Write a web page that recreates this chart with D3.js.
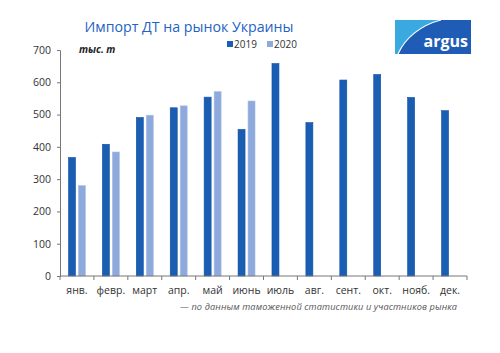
<!DOCTYPE html>
<html>
<head>
<meta charset="utf-8">
<script src="https://cdn.jsdelivr.net/npm/d3@7"></script>
<style>
  body { margin: 0; background: #fff; }
  text { font-family: "Open Sans", "Noto Sans", sans-serif; }
</style>
</head>
<body>
<div id="graphic"></div>
<script>
// data
const months = ["янв.", "февр.", "март", "апр.", "май", "июнь", "июль", "авг.", "сент.", "окт.", "нояб.", "дек."];
const years = ["2019", "2020"];
const values2019 = [367, 408, 491, 521, 554, 454, 658, 475, 607, 624, 553, 512];
const values2020 = [280, 384, 498, 527, 571, 542, null, null, null, null, null, null];
const yTicks = [0, 100, 200, 300, 400, 500, 600, 700];

const colors = {"2019": "#1a5eb4", "2020": "#8eaadc"};

const graphicWidth = 500;
const graphicHeight = 353;
const margin = {top: 50, right: 33, bottom: 77, left: 60};
const plotWidth = graphicWidth - margin.left - margin.right;
const plotHeight = graphicHeight - margin.top - margin.bottom;

const svg = d3.select("#graphic")
    .append("svg")
    .attr("width", graphicWidth)
    .attr("height", graphicHeight);

const plot = svg.append("g")
    .attr("transform", "translate(" + margin.left + "," + margin.top + ")");

// scales
const x = d3.scaleBand()
    .domain(months)
    .range([0, plotWidth])
    .paddingInner(0.5)
    .paddingOuter(0.25);
const xSub = d3.scaleBand()
    .domain(years)
    .range([0, x.bandwidth()])
    .paddingInner(0.3);
const y = d3.scaleLinear()
    .domain([0, 700])
    .range([plotHeight, 0]);

// bars
const rows = months.map((m, i) => ({month: m, "2019": values2019[i], "2020": values2020[i]}));
const groups = plot.selectAll("g.month")
    .data(rows)
    .enter().append("g")
    .attr("class", "month")
    .attr("transform", d => "translate(" + x(d.month) + ",0)");
groups.selectAll("rect")
    .data(d => years.filter(k => d[k] != null).map(k => ({key: k, value: d[k]})))
    .enter().append("rect")
    .attr("x", d => xSub(d.key))
    .attr("y", d => y(d.value))
    .attr("width", xSub.bandwidth())
    .attr("height", d => plotHeight - y(d.value))
    .attr("fill", d => colors[d.key])
    .attr("stroke", d => d.key === "2019" ? "#124f9e" : "#a9bfe6")
    .attr("stroke-width", 0.6);

// y axis
const yAxis = plot.append("g")
    .call(d3.axisLeft(y).tickValues(yTicks).tickSize(3).tickPadding(6));
yAxis.select(".domain").attr("stroke", "#777");
yAxis.selectAll(".tick line").attr("stroke", "#777");
yAxis.selectAll(".tick text").attr("fill", "#333").style("font-size", "10.5px");

// x axis with ticks at category boundaries
const xAxisG = plot.append("g")
    .attr("transform", "translate(0," + plotHeight + ")");
xAxisG.append("line")
    .attr("x1", 0).attr("x2", plotWidth)
    .attr("stroke", "#777");
const bounds = d3.range(months.length + 1).map(i => i * plotWidth / months.length);
xAxisG.selectAll("line.tk")
    .data(bounds)
    .enter().append("line")
    .attr("class", "tk")
    .attr("x1", d => d).attr("x2", d => d)
    .attr("y1", 0).attr("y2", 4)
    .attr("stroke", "#777");
xAxisG.selectAll("text")
    .data(months)
    .enter().append("text")
    .attr("x", d => x(d) + x.bandwidth() / 2)
    .attr("y", 18)
    .attr("text-anchor", "middle")
    .attr("fill", "#333")
    .style("font-size", "10.5px")
    .text(d => d);

// title
svg.append("text")
    .attr("x", 189)
    .attr("y", 32)
    .attr("text-anchor", "middle")
    .attr("fill", "#2362c4")
    .style("font-size", "14.2px")
    .text("Импорт ДТ на рынок Украины");

// unit label
svg.append("text")
    .attr("x", 79)
    .attr("y", 53)
    .attr("fill", "#222")
    .style("font-size", "10px")
    .style("font-weight", "bold")
    .style("font-style", "italic")
    .text("тыс. т");

// legend
const legend = svg.append("g");
const legendX = [227, 267];
years.forEach((k, i) => {
    legend.append("rect")
        .attr("x", legendX[i]).attr("y", 41)
        .attr("width", 6).attr("height", 6)
        .attr("fill", colors[k]);
    legend.append("text")
        .attr("x", legendX[i] + 7).attr("y", 48)
        .attr("fill", "#333")
        .style("font-size", "10px")
        .text(k);
});

// footnote
svg.append("text")
    .attr("x", 457)
    .attr("y", 310)
    .attr("text-anchor", "end")
    .attr("fill", "#555")
    .style("font-size", "9.2px")
    .style("font-style", "italic")
    .attr("textLength", 277)
    .text("— по данным таможенной статистики и участников рынка");

// argus logo
const logo = svg.append("g").attr("transform", "translate(395,20)");
logo.append("rect")
    .attr("width", 76).attr("height", 34)
    .attr("fill", "#1f5cb5");
logo.append("path")
    .attr("d", "M0,0 L46,0 C26,5 10,18 3,34 L0,34 Z")
    .attr("fill", "#3aa9e0");
logo.append("path")
    .attr("d", "M46,0 C26,5 10,18 3,34")
    .attr("fill", "none")
    .attr("stroke", "#fff")
    .attr("stroke-width", 1.2);
logo.append("text")
    .attr("x", 73).attr("y", 27)
    .attr("text-anchor", "end")
    .attr("fill", "#fff")
    .style("font-size", "16px")
    .style("font-weight", "bold")
    .text("argus");
</script>
</body>
</html>
